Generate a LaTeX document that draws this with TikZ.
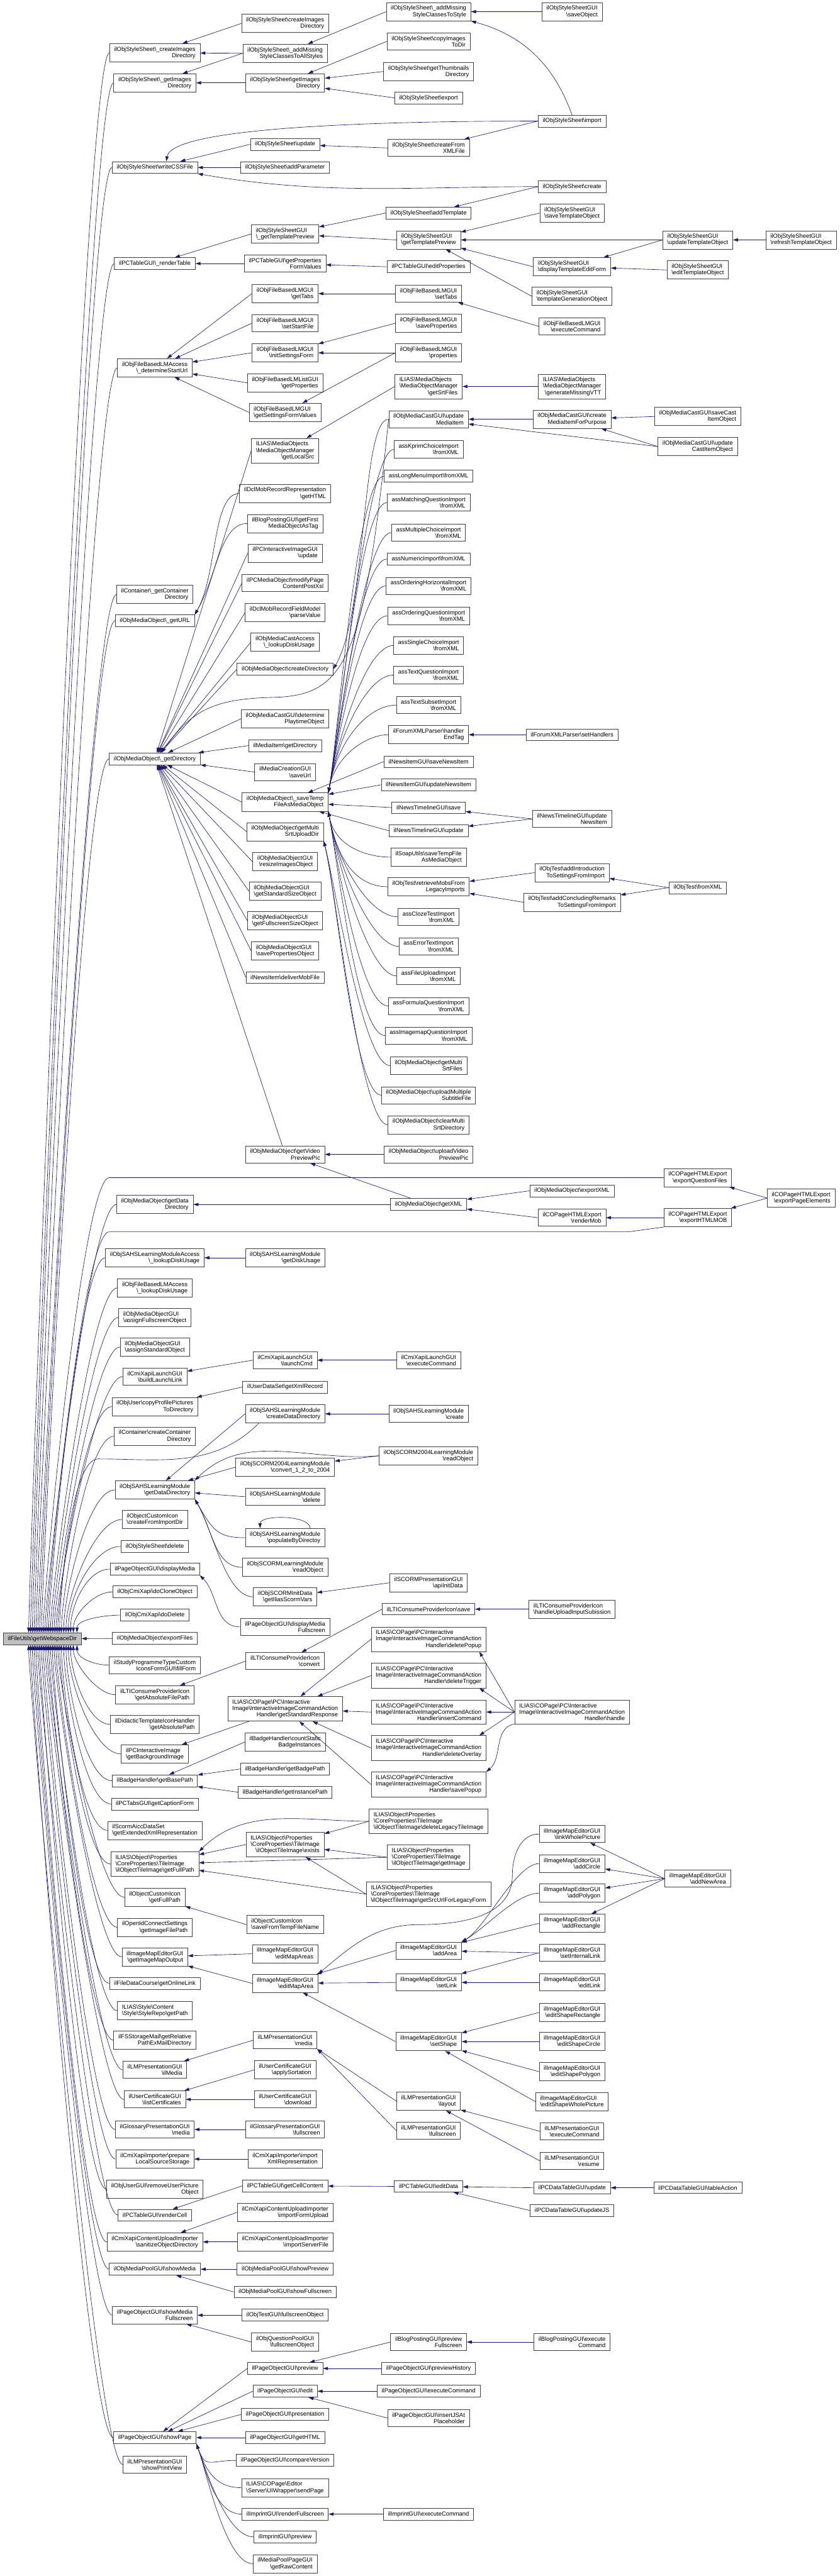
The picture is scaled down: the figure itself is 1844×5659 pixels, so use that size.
\documentclass[tikz,border=0pt]{standalone}
\usepackage{fontspec}
\setmainfont{Liberation Sans}
\usetikzlibrary{arrows.meta}
\definecolor{edgeblue}{RGB}{25,25,112}
\definecolor{boxline}{RGB}{64,64,64}
\definecolor{rootfill}{RGB}{191,191,191}
\newcommand{\bksl}{\textbackslash}
\newcommand{\lastc}[1]{\hfill#1\hfill}
\newcommand{\fnsize}{\fontsize{13}{14}\selectfont}

\begin{document}
\begin{tikzpicture}[x=1pt, y=1pt,
    func/.style={rectangle, draw=boxline, fill=white, line width=1pt, align=left,
                 font=\fnsize, inner xsep=10pt, inner ysep=7pt, minimum height=25pt},
    focus/.style={func, fill=rootfill},
    arrow/.style={<-, >={Triangle[length=11pt,width=7pt]}, draw=edgeblue, line width=0.9pt}
  ]
    \useasboundingbox (0,0) rectangle (1844,-5659);

    % the function itself
    \node[focus] (wsdir) at (93,-3600) {ilFileUtils\bksl{}getWebspaceDir};

    % direct callers
    \node[func] (crimgdir)    at (340,-116)  {ilObjStyleSheet\bksl{}\_createImages\\\lastc{Directory}};
    \node[func] (getimgdir)   at (340,-182)  {ilObjStyleSheet\bksl{}\_getImages\\\lastc{Directory}};
    \node[func] (writecss)    at (340,-368)  {ilObjStyleSheet\bksl{}writeCSSFile};
    \node[func] (rendertab)   at (340,-579)  {ilPCTableGUI\bksl{}\_renderTable};
    \node[func] (startUrl)    at (340,-808)  {ilObjFileBasedLMAccess\\\lastc{\bksl{}\_determineStartUrl}};
    \node[func] (contdir)     at (340,-1306) {ilContainer\bksl{}\_getContainer\\\lastc{Directory}};
    \node[func] (geturl)      at (340,-1364) {ilObjMediaObject\bksl{}\_getURL};
    \node[func] (getdir)      at (340,-1667) {ilObjMediaObject\bksl{}\_getDirectory};
    \node[func] (datadir)     at (340,-2646) {ilObjMediaObject\bksl{}getData\\\lastc{Directory}};
    \node[func] (sahsdisk)    at (340,-2763) {ilObjSAHSLearningModuleAccess\\\lastc{\bksl{}\_lookupDiskUsage}};
    \node[func] (flmdisk)     at (340,-2829) {ilObjFileBasedLMAccess\\\lastc{\bksl{}\_lookupDiskUsage}};
    \node[func] (assignfs)    at (340,-2894) {ilObjMediaObjectGUI\\\lastc{\bksl{}assignFullscreenObject}};
    \node[func] (assignstd)   at (340,-2959) {ilObjMediaObjectGUI\\\lastc{\bksl{}assignStandardObject}};
    \node[func] (buildlink)   at (340,-3024) {ilCmiXapiLaunchGUI\\\lastc{\bksl{}buildLaunchLink}};
    \node[func] (copypics)    at (340,-3090) {ilObjUser\bksl{}copyProfilePictures\\\lastc{ToDirectory}};
    \node[func] (crcontdir)   at (340,-3155) {ilContainer\bksl{}createContainer\\\lastc{Directory}};
    \node[func] (sahsdatadir) at (340,-3273) {ilObjSAHSLearningModule\\\lastc{\bksl{}getDataDirectory}};
    \node[func] (iconimport)  at (340,-3338) {ilObjectCustomIcon\\\lastc{\bksl{}createFromImportDir}};
    \node[func] (ssdelete)    at (340,-3397) {ilObjStyleSheet\bksl{}delete};
    \node[func] (dispmedia)   at (340,-3447) {ilPageObjectGUI\bksl{}displayMedia};
    \node[func] (xapiclone)   at (340,-3497) {ilObjCmiXapi\bksl{}doCloneObject};
    \node[func] (xapidelete)  at (340,-3548) {ilObjCmiXapi\bksl{}doDelete};
    \node[func] (mobexport)   at (340,-3599) {ilObjMediaObject\bksl{}exportFiles};
    \node[func] (spfill)      at (340,-3658) {ilStudyProgrammeTypeCustom\\\lastc{IconsFormGUI\bksl{}fillForm}};
    \node[func] (ltiabspath)  at (340,-3723) {ilLTIConsumeProviderIcon\\\lastc{\bksl{}getAbsoluteFilePath}};
    \node[func] (didabspath)  at (340,-3788) {ilDidacticTemplateIconHandler\\\lastc{\bksl{}getAbsolutePath}};
    \node[func] (bgimage)     at (340,-3853) {ilPCInteractiveImage\\\lastc{\bksl{}getBackgroundImage}};
    \node[func] (badgebase)   at (340,-3912) {ilBadgeHandler\bksl{}getBasePath};
    \node[func] (tabscaption) at (340,-3963) {ilPCTabsGUI\bksl{}getCaptionForm};
    \node[func] (scormxml)    at (340,-4021) {ilScormAiccDataSet\\\lastc{\bksl{}getExtendedXmlRepresentation}};
    \node[func] (tilepath)    at (340,-4095) {ILIAS\bksl{}Object\bksl{}Properties\\\bksl{}CoreProperties\bksl{}TileImage\\\lastc{\bksl{}ilObjectTileImage\bksl{}getFullPath}};
    \node[func] (iconpath)    at (340,-4168) {ilObjectCustomIcon\\\lastc{\bksl{}getFullPath}};
    \node[func] (oidcpath)    at (340,-4234) {ilOpenIdConnectSettings\\\lastc{\bksl{}getImageFilePath}};
    \node[func] (mapoutput)   at (340,-4299) {ilImageMapEditorGUI\\\lastc{\bksl{}getImageMapOutput}};
    \node[func] (crsonline)   at (340,-4357) {ilFileDataCourse\bksl{}getOnlineLink};
    \node[func] (stylepath)   at (340,-4417) {ILIAS\bksl{}Style\bksl{}Content\\\lastc{\bksl{}Style\bksl{}StyleRepo\bksl{}getPath}};
    \node[func] (mailpath)    at (340,-4482) {ilFSStorageMail\bksl{}getRelative\\\lastc{PathExMailDirectory}};
    \node[func] (lmilmedia)   at (340,-4547) {ilLMPresentationGUI\\\lastc{\bksl{}ilMedia}};
    \node[func] (certlist)    at (340,-4612) {ilUserCertificateGUI\\\lastc{\bksl{}listCertificates}};
    \node[func] (glomedia)    at (340,-4678) {ilGlossaryPresentationGUI\\\lastc{\bksl{}media}};
    \node[func] (xapiprep)    at (340,-4743) {ilCmiXapiImporter\bksl{}prepare\\\lastc{LocalSourceStorage}};
    \node[func] (rmpicture)   at (340,-4809) {ilObjUserGUI\bksl{}removeUserPicture\\\lastc{Object}};
    \node[func] (rendercell)  at (340,-4866) {ilPCTableGUI\bksl{}renderCell};
    \node[func] (sanitize)    at (340,-4925) {ilCmiXapiContentUploadImporter\\\lastc{\bksl{}sanitizeObjectDirectory}};
    \node[func] (poolmedia)   at (340,-4985) {ilObjMediaPoolGUI\bksl{}showMedia};
    \node[func] (showmediafs) at (340,-5086) {ilPageObjectGUI\bksl{}showMedia\\\lastc{Fullscreen}};
    \node[func] (showpage)    at (340,-5355) {ilPageObjectGUI\bksl{}showPage};
    \node[func] (printview)   at (340,-5414) {ilLMPresentationGUI\\\lastc{\bksl{}showPrintView}};

    % second level
    \node[func] (createimg)     at (626,-51.5) {ilObjStyleSheet\bksl{}createImages\\\lastc{Directory}};
    \node[func] (addmissall)    at (626,-117)  {ilObjStyleSheet\bksl{}\_addMissing\\\lastc{StyleClassesToAllStyles}};
    \node[func] (imgdir)        at (626,-182)  {ilObjStyleSheet\bksl{}getImages\\\lastc{Directory}};
    \node[func] (ssupdate)      at (626,-317)  {ilObjStyleSheet\bksl{}update};
    \node[func] (addparam)      at (626,-368)  {ilObjStyleSheet\bksl{}addParameter};
    \node[func] (tplprevs)      at (626,-514)  {ilObjStyleSheetGUI\\\lastc{\bksl{}\_getTemplatePreview}};
    \node[func] (propvalues)    at (626,-579)  {ilPCTableGUI\bksl{}getProperties\\\lastc{FormValues}};
    \node[func] (flmtabs)       at (626,-645)  {ilObjFileBasedLMGUI\\\lastc{\bksl{}getTabs}};
    \node[func] (setstart)      at (626,-710)  {ilObjFileBasedLMGUI\\\lastc{\bksl{}setStartFile}};
    \node[func] (initform)      at (626,-775)  {ilObjFileBasedLMGUI\\\lastc{\bksl{}initSettingsForm}};
    \node[func] (listprops)     at (626,-841)  {ilObjFileBasedLMListGUI\\\lastc{\bksl{}getProperties}};
    \node[func] (formvalues)    at (626,-906)  {ilObjFileBasedLMGUI\\\lastc{\bksl{}getSettingsFormValues}};
    \node[func] (localsrc)      at (626,-990)  {ILIAS\bksl{}MediaObjects\\\bksl{}MediaObjectManager\\\lastc{\bksl{}getLocalSrc}};
    \node[func] (dclhtml)       at (626,-1084) {ilDclMobRecordRepresentation\\\lastc{\bksl{}getHTML}};
    \node[func] (firstmob)      at (626,-1150) {ilBlogPostingGUI\bksl{}getFirst\\\lastc{MediaObjectAsTag}};
    \node[func] (iimupdate)     at (626,-1215) {ilPCInteractiveImageGUI\\\lastc{\bksl{}update}};
    \node[func] (postxsl)       at (626,-1281) {ilPCMediaObject\bksl{}modifyPage\\\lastc{ContentPostXsl}};
    \node[func] (dclparse)      at (626,-1346) {ilDclMobRecordFieldModel\\\lastc{\bksl{}parseValue}};
    \node[func] (castdisk)      at (626,-1411) {ilObjMediaCastAccess\\\lastc{\bksl{}\_lookupDiskUsage}};
    \node[func] (createdir)     at (626,-1470) {ilObjMediaObject\bksl{}createDirectory};
    \node[func] (playtime)      at (626,-1579) {ilObjMediaCastGUI\bksl{}determine\\\lastc{PlaytimeObject}};
    \node[func] (itemdir)       at (626,-1638) {ilMediaItem\bksl{}getDirectory};
    \node[func] (saveurl)       at (626,-1696) {ilMediaCreationGUI\\\lastc{\bksl{}saveUrl}};
    \node[func] (savetemp)      at (626,-1762) {ilObjMediaObject\bksl{}\_saveTemp\\\lastc{FileAsMediaObject}};
    \node[func] (srtupdir)      at (626,-1827) {ilObjMediaObject\bksl{}getMulti\\\lastc{SrtUploadDir}};
    \node[func] (resizeimg)     at (626,-1893) {ilObjMediaObjectGUI\\\lastc{\bksl{}resizeImagesObject}};
    \node[func] (stdsize)       at (626,-1958) {ilObjMediaObjectGUI\\\lastc{\bksl{}getStandardSizeObject}};
    \node[func] (fssize)        at (626,-2023) {ilObjMediaObjectGUI\\\lastc{\bksl{}getFullscreenSizeObject}};
    \node[func] (saveprops)     at (626,-2089) {ilObjMediaObjectGUI\\\lastc{\bksl{}savePropertiesObject}};
    \node[func] (delivermob)    at (626,-2147) {ilNewsItem\bksl{}deliverMobFile};
    \node[func] (videopic)      at (626,-2536) {ilObjMediaObject\bksl{}getVideo\\\lastc{PreviewPic}};
    \node[func] (sahsdiskusage) at (626,-2763) {ilObjSAHSLearningModule\\\lastc{\bksl{}getDiskUsage}};
    \node[func] (launchcmd)     at (626,-2988) {ilCmiXapiLaunchGUI\\\lastc{\bksl{}launchCmd}};
    \node[func] (xmlrecord)     at (626,-3047) {ilUserDataSet\bksl{}getXmlRecord};
    \node[func] (createdatadir) at (626,-3106) {ilObjSAHSLearningModule\\\lastc{\bksl{}createDataDirectory}};
    \node[func] (convert12)     at (626,-3223) {ilObjSCORM2004LearningModule\\\lastc{\bksl{}convert\_1\_2\_to\_2004}};
    \node[func] (sahsdel)       at (626,-3288) {ilObjSAHSLearningModule\\\lastc{\bksl{}delete}};
    \node[func] (populate)      at (626,-3378) {ilObjSAHSLearningModule\\\lastc{\bksl{}populateByDirectoy}};
    \node[func] (scormread)     at (626,-3443) {ilObjSCORMLearningModule\\\lastc{\bksl{}readObject}};
    \node[func] (scormvars)     at (626,-3508) {ilObjSCORMInitData\\\lastc{\bksl{}getIliasScormVars}};
    \node[func] (dispmediafs)   at (626,-3574) {ilPageObjectGUI\bksl{}displayMedia\\\lastc{Fullscreen}};
    \node[func] (lticonvert)    at (626,-3649) {ilLTIConsumeProviderIcon\\\lastc{\bksl{}convert}};
    \node[func] (stdresponse)   at (626,-3754) {ILIAS\bksl{}COPage\bksl{}PC\bksl{}Interactive\\Image\bksl{}InteractiveImageCommandAction\\\lastc{Handler\bksl{}getStandardResponse}};
    \node[func] (countbadges)   at (626,-3827) {ilBadgeHandler\bksl{}countStatic\\\lastc{BadgeInstances}};
    \node[func] (badgepath)     at (626,-3886) {ilBadgeHandler\bksl{}getBadgePath};
    \node[func] (instpath)      at (626,-3937) {ilBadgeHandler\bksl{}getInstancePath};
    \node[func] (tileexists)    at (626,-4052) {ILIAS\bksl{}Object\bksl{}Properties\\\bksl{}CoreProperties\bksl{}TileImage\\\lastc{\bksl{}ilObjectTileImage\bksl{}exists}};
    \node[func] (savetempicon)  at (626,-4228) {ilObjectCustomIcon\\\lastc{\bksl{}saveFromTempFileName}};
    \node[func] (editmapareas)  at (626,-4292) {ilImageMapEditorGUI\\\lastc{\bksl{}editMapAreas}};
    \node[func] (editmaparea)   at (626,-4357) {ilImageMapEditorGUI\\\lastc{\bksl{}editMapArea}};
    \node[func] (lmmedia)       at (626,-4482) {ilLMPresentationGUI\\\lastc{\bksl{}media}};
    \node[func] (certsort)      at (626,-4547) {ilUserCertificateGUI\\\lastc{\bksl{}applySortation}};
    \node[func] (certdownload)  at (626,-4612) {ilUserCertificateGUI\\\lastc{\bksl{}download}};
    \node[func] (glofs)         at (626,-4678) {ilGlossaryPresentationGUI\\\lastc{\bksl{}fullscreen}};
    \node[func] (xapiimport)    at (626,-4743) {ilCmiXapiImporter\bksl{}import\\\lastc{XmlRepresentation}};
    \node[func] (cellcontent)   at (626,-4802) {ilPCTableGUI\bksl{}getCellContent};
    \node[func] (formupload)    at (626,-4860) {ilCmiXapiContentUploadImporter\\\lastc{\bksl{}importFormUpload}};
    \node[func] (serverfile)    at (626,-4925) {ilCmiXapiContentUploadImporter\\\lastc{\bksl{}importServerFile}};
    \node[func] (poolpreview)   at (626,-4985) {ilObjMediaPoolGUI\bksl{}showPreview};
    \node[func] (poolfs)        at (626,-5035) {ilObjMediaPoolGUI\bksl{}showFullscreen};
    \node[func] (testfs)        at (626,-5086) {ilObjTestGUI\bksl{}fullscreenObject};
    \node[func] (qplfs)         at (626,-5145) {ilObjQuestionPoolGUI\\\lastc{\bksl{}fullscreenObject}};
    \node[func] (pgpreview)     at (626,-5203) {ilPageObjectGUI\bksl{}preview};
    \node[func] (pgedit)        at (626,-5253) {ilPageObjectGUI\bksl{}edit};
    \node[func] (pgpresent)     at (626,-5304) {ilPageObjectGUI\bksl{}presentation};
    \node[func] (pghtml)        at (626,-5355) {ilPageObjectGUI\bksl{}getHTML};
    \node[func] (pgcompare)     at (626,-5405) {ilPageObjectGUI\bksl{}compareVersion};
    \node[func] (sendpage)      at (626,-5465) {ILIAS\bksl{}COPage\bksl{}Editor\\\lastc{\bksl{}Server\bksl{}UIWrapper\bksl{}sendPage}};
    \node[func] (imprintfs)     at (626,-5523) {ilImprintGUI\bksl{}renderFullscreen};
    \node[func] (imprintprev)   at (626,-5573) {ilImprintGUI\bksl{}preview};
    \node[func] (rawcontent)    at (626,-5632) {ilMediaPoolPageGUI\\\lastc{\bksl{}getRawContent}};

    % third level
    \node[func] (addmiss)       at (941,-25.7) {ilObjStyleSheet\bksl{}\_addMissing\\\lastc{StyleClassesToStyle}};
    \node[func] (copyimg)       at (941,-91)   {ilObjStyleSheet\bksl{}copyImages\\\lastc{ToDir}};
    \node[func] (thumbdir)      at (941,-157)  {ilObjStyleSheet\bksl{}getThumbnails\\\lastc{Directory}};
    \node[func] (ssexport)      at (941,-215)  {ilObjStyleSheet\bksl{}export};
    \node[func] (fromxmlfile)   at (941,-325)  {ilObjStyleSheet\bksl{}createFrom\\\lastc{XMLFile}};
    \node[func] (addtpl)        at (941,-468)  {ilObjStyleSheet\bksl{}addTemplate};
    \node[func] (tplprev)       at (941,-527)  {ilObjStyleSheetGUI\\\lastc{\bksl{}getTemplatePreview}};
    \node[func] (editprops)     at (941,-586)  {ilPCTableGUI\bksl{}editProperties};
    \node[func] (settabs)       at (941,-645)  {ilObjFileBasedLMGUI\\\lastc{\bksl{}setTabs}};
    \node[func] (flmsaveprops)  at (941,-710)  {ilObjFileBasedLMGUI\\\lastc{\bksl{}saveProperties}};
    \node[func] (flmprops)      at (941,-775)  {ilObjFileBasedLMGUI\\\lastc{\bksl{}properties}};
    \node[func] (srtfiles)      at (941,-849)  {ILIAS\bksl{}MediaObjects\\\bksl{}MediaObjectManager\\\lastc{\bksl{}getSrtFiles}};
    \node[func] (updmediaitem)  at (941,-921)  {ilObjMediaCastGUI\bksl{}update\\\lastc{MediaItem}};
    \node[func] (kprim)         at (941,-987)  {assKprimChoiceImport\\\lastc{\bksl{}fromXML}};
    \node[func] (longmenu)      at (941,-1046) {assLongMenuImport\bksl{}fromXML};
    \node[func] (matching)      at (941,-1104) {assMatchingQuestionImport\\\lastc{\bksl{}fromXML}};
    \node[func] (multichoice)   at (941,-1170) {assMultipleChoiceImport\\\lastc{\bksl{}fromXML}};
    \node[func] (numeric)       at (941,-1228) {assNumericImport\bksl{}fromXML};
    \node[func] (orderhor)      at (941,-1287) {assOrderingHorizontalImport\\\lastc{\bksl{}fromXML}};
    \node[func] (orderq)        at (941,-1353) {assOrderingQuestionImport\\\lastc{\bksl{}fromXML}};
    \node[func] (singlechoice)  at (941,-1418) {assSingleChoiceImport\\\lastc{\bksl{}fromXML}};
    \node[func] (textq)         at (941,-1483) {assTextQuestionImport\\\lastc{\bksl{}fromXML}};
    \node[func] (textsubset)    at (941,-1549) {assTextSubsetImport\\\lastc{\bksl{}fromXML}};
    \node[func] (forumend)      at (941,-1614) {ilForumXMLParser\bksl{}handler\\\lastc{EndTag}};
    \node[func] (newssave)      at (941,-1673) {ilNewsItemGUI\bksl{}saveNewsItem};
    \node[func] (newsupd)       at (941,-1724) {ilNewsItemGUI\bksl{}updateNewsItem};
    \node[func] (tlsave)        at (941,-1774) {ilNewsTimelineGUI\bksl{}save};
    \node[func] (tlupdate)      at (941,-1825) {ilNewsTimelineGUI\bksl{}update};
    \node[func] (soaptemp)      at (941,-1883) {ilSoapUtils\bksl{}saveTempFile\\\lastc{AsMediaObject}};
    \node[func] (legacymobs)    at (941,-1948) {ilObjTest\bksl{}retrieveMobsFrom\\\lastc{LegacyImports}};
    \node[func] (cloze)         at (941,-2014) {assClozeTestImport\\\lastc{\bksl{}fromXML}};
    \node[func] (errortext)     at (941,-2079) {assErrorTextImport\\\lastc{\bksl{}fromXML}};
    \node[func] (fileupload)    at (941,-2144) {assFileUploadImport\\\lastc{\bksl{}fromXML}};
    \node[func] (formula)       at (941,-2210) {assFormulaQuestionImport\\\lastc{\bksl{}fromXML}};
    \node[func] (imagemap)      at (941,-2275) {assImagemapQuestionImport\\\lastc{\bksl{}fromXML}};
    \node[func] (multisrt)      at (941,-2341) {ilObjMediaObject\bksl{}getMulti\\\lastc{SrtFiles}};
    \node[func] (uploadsub)     at (941,-2406) {ilObjMediaObject\bksl{}uploadMultiple\\\lastc{SubtitleFile}};
    \node[func] (clearsrt)      at (941,-2471) {ilObjMediaObject\bksl{}clearMulti\\\lastc{SrtDirectory}};
    \node[func] (uploadvideo)   at (941,-2536) {ilObjMediaObject\bksl{}uploadVideo\\\lastc{PreviewPic}};
    \node[func] (getxml)        at (941,-2646) {ilObjMediaObject\bksl{}getXML};
    \node[func] (xapiexec)      at (941,-2988) {ilCmiXapiLaunchGUI\\\lastc{\bksl{}executeCommand}};
    \node[func] (sahscreate)    at (941,-3106) {ilObjSAHSLearningModule\\\lastc{\bksl{}create}};
    \node[func] (scorm2004read) at (941,-3198) {ilObjSCORM2004LearningModule\\\lastc{\bksl{}readObject}};
    \node[func] (apiinit)       at (941,-3477) {ilSCORMPresentationGUI\\\lastc{\bksl{}apiInitData}};
    \node[func] (ltisave)       at (941,-3535) {ilLTIConsumeProviderIcon\bksl{}save};
    \node[func] (delpopup)      at (941,-3601) {ILIAS\bksl{}COPage\bksl{}PC\bksl{}Interactive\\Image\bksl{}InteractiveImageCommandAction\\\lastc{Handler\bksl{}deletePopup}};
    \node[func] (deltrigger)    at (941,-3681) {ILIAS\bksl{}COPage\bksl{}PC\bksl{}Interactive\\Image\bksl{}InteractiveImageCommandAction\\\lastc{Handler\bksl{}deleteTrigger}};
    \node[func] (insertcmd)     at (941,-3761) {ILIAS\bksl{}COPage\bksl{}PC\bksl{}Interactive\\Image\bksl{}InteractiveImageCommandAction\\\lastc{Handler\bksl{}insertCommand}};
    \node[func] (deloverlay)    at (941,-3840) {ILIAS\bksl{}COPage\bksl{}PC\bksl{}Interactive\\Image\bksl{}InteractiveImageCommandAction\\\lastc{Handler\bksl{}deleteOverlay}};
    \node[func] (savepopup)     at (941,-3920) {ILIAS\bksl{}COPage\bksl{}PC\bksl{}Interactive\\Image\bksl{}InteractiveImageCommandAction\\\lastc{Handler\bksl{}savePopup}};
    \node[func] (dellegacy)     at (941,-4001) {ILIAS\bksl{}Object\bksl{}Properties\\\bksl{}CoreProperties\bksl{}TileImage\\\lastc{\bksl{}ilObjectTileImage\bksl{}deleteLegacyTileImage}};
    \node[func] (tileimage)     at (941,-4080) {ILIAS\bksl{}Object\bksl{}Properties\\\bksl{}CoreProperties\bksl{}TileImage\\\lastc{\bksl{}ilObjectTileImage\bksl{}getImage}};
    \node[func] (tilesrcurl)    at (941,-4161) {ILIAS\bksl{}Object\bksl{}Properties\\\bksl{}CoreProperties\bksl{}TileImage\\\lastc{\bksl{}ilObjectTileImage\bksl{}getSrcUrlForLegacyForm}};
    \node[func] (addarea)       at (941,-4285) {ilImageMapEditorGUI\\\lastc{\bksl{}addArea}};
    \node[func] (setlink)       at (941,-4355) {ilImageMapEditorGUI\\\lastc{\bksl{}setLink}};
    \node[func] (setshape)      at (941,-4485) {ilImageMapEditorGUI\\\lastc{\bksl{}setShape}};
    \node[func] (lmlayout)      at (941,-4616) {ilLMPresentationGUI\\\lastc{\bksl{}layout}};
    \node[func] (lmfs)          at (941,-4681) {ilLMPresentationGUI\\\lastc{\bksl{}fullscreen}};
    \node[func] (editdata)      at (941,-4803) {ilPCTableGUI\bksl{}editData};
    \node[func] (blogprevfs)    at (941,-5145) {ilBlogPostingGUI\bksl{}preview\\\lastc{Fullscreen}};
    \node[func] (prevhistory)   at (941,-5203) {ilPageObjectGUI\bksl{}previewHistory};
    \node[func] (pgexec)        at (941,-5253) {ilPageObjectGUI\bksl{}executeCommand};
    \node[func] (insertjs)      at (941,-5312) {ilPageObjectGUI\bksl{}insertJSAt\\\lastc{Placeholder}};
    \node[func] (imprintexec)   at (941,-5523) {ilImprintGUI\bksl{}executeCommand};

    % fourth level
    \node[func] (saveobj)          at (1256,-25.7) {ilObjStyleSheetGUI\\\lastc{\bksl{}saveObject}};
    \node[func] (ssimport)         at (1256,-266)  {ilObjStyleSheet\bksl{}import};
    \node[func] (sscreate)         at (1256,-410)  {ilObjStyleSheet\bksl{}create};
    \node[func] (savetpl)          at (1256,-468)  {ilObjStyleSheetGUI\\\lastc{\bksl{}saveTemplateObject}};
    \node[func] (tpleditform)      at (1256,-586)  {ilObjStyleSheetGUI\\\lastc{\bksl{}displayTemplateEditForm}};
    \node[func] (tplgen)           at (1256,-651)  {ilObjStyleSheetGUI\\\lastc{\bksl{}templateGenerationObject}};
    \node[func] (flmexec)          at (1256,-717)  {ilObjFileBasedLMGUI\\\lastc{\bksl{}executeCommand}};
    \node[func] (missingvtt)       at (1256,-849)  {ILIAS\bksl{}MediaObjects\\\bksl{}MediaObjectManager\\\lastc{\bksl{}generateMissingVTT}};
    \node[func] (createforpurpose) at (1256,-921)  {ilObjMediaCastGUI\bksl{}create\\\lastc{MediaItemForPurpose}};
    \node[func] (sethandlers)      at (1256,-1614) {ilForumXMLParser\bksl{}setHandlers};
    \node[func] (tlupdnews)        at (1256,-1799) {ilNewsTimelineGUI\bksl{}update\\\lastc{NewsItem}};
    \node[func] (addintro)         at (1256,-1917) {ilObjTest\bksl{}addIntroduction\\\lastc{ToSettingsFromImport}};
    \node[func] (addremarks)       at (1256,-1982) {ilObjTest\bksl{}addConcludingRemarks\\\lastc{ToSettingsFromImport}};
    \node[func] (exportxml)        at (1256,-2616) {ilObjMediaObject\bksl{}exportXML};
    \node[func] (rendermob)        at (1256,-2675) {ilCOPageHTMLExport\\\lastc{\bksl{}renderMob}};
    \node[func] (uploadsubmit)     at (1256,-3535) {ilLTIConsumeProviderIcon\\\lastc{\bksl{}handleUploadInputSubission}};
    \node[func] (iihandle)         at (1256,-3761) {ILIAS\bksl{}COPage\bksl{}PC\bksl{}Interactive\\Image\bksl{}InteractiveImageCommandAction\\\lastc{Handler\bksl{}handle}};
    \node[func] (linkwhole)        at (1256,-4029) {ilImageMapEditorGUI\\\lastc{\bksl{}linkWholePicture}};
    \node[func] (addcircle)        at (1256,-4094) {ilImageMapEditorGUI\\\lastc{\bksl{}addCircle}};
    \node[func] (addpolygon)       at (1256,-4159) {ilImageMapEditorGUI\\\lastc{\bksl{}addPolygon}};
    \node[func] (addrect)          at (1256,-4225) {ilImageMapEditorGUI\\\lastc{\bksl{}addRectangle}};
    \node[func] (setintlink)       at (1256,-4290) {ilImageMapEditorGUI\\\lastc{\bksl{}setInternalLink}};
    \node[func] (editlink)         at (1256,-4355) {ilImageMapEditorGUI\\\lastc{\bksl{}editLink}};
    \node[func] (shaperect)        at (1256,-4421) {ilImageMapEditorGUI\\\lastc{\bksl{}editShapeRectangle}};
    \node[func] (shapecircle)      at (1256,-4485) {ilImageMapEditorGUI\\\lastc{\bksl{}editShapeCircle}};
    \node[func] (shapepoly)        at (1256,-4551) {ilImageMapEditorGUI\\\lastc{\bksl{}editShapePolygon}};
    \node[func] (shapewhole)       at (1256,-4617) {ilImageMapEditorGUI\\\lastc{\bksl{}editShapeWholePicture}};
    \node[func] (lmexec)           at (1256,-4682) {ilLMPresentationGUI\\\lastc{\bksl{}executeCommand}};
    \node[func] (lmresume)         at (1256,-4747) {ilLMPresentationGUI\\\lastc{\bksl{}resume}};
    \node[func] (dtupdate)         at (1256,-4806) {ilPCDataTableGUI\bksl{}update};
    \node[func] (dtupdatejs)       at (1256,-4856) {ilPCDataTableGUI\bksl{}updateJS};
    \node[func] (blogexec)         at (1256,-5145) {ilBlogPostingGUI\bksl{}execute\\\lastc{Command}};

    % fifth and sixth level
    \node[func] (updtpl)        at (1532,-527)  {ilObjStyleSheetGUI\\\lastc{\bksl{}updateTemplateObject}};
    \node[func] (edittpl)       at (1532,-593)  {ilObjStyleSheetGUI\\\lastc{\bksl{}editTemplateObject}};
    \node[func] (savecastitem)  at (1532,-915)  {ilObjMediaCastGUI\bksl{}saveCast\\\lastc{ItemObject}};
    \node[func] (updcastitem)   at (1532,-981)  {ilObjMediaCastGUI\bksl{}update\\\lastc{CastItemObject}};
    \node[func] (testfromxml)   at (1532,-1950) {ilObjTest\bksl{}fromXML};
    \node[func] (exportqfiles)  at (1532,-2587) {ilCOPageHTMLExport\\\lastc{\bksl{}exportQuestionFiles}};
    \node[func] (exporthtmlmob) at (1532,-2675) {ilCOPageHTMLExport\\\lastc{\bksl{}exportHTMLMOB}};
    \node[func] (addnewarea)    at (1532,-4127) {ilImageMapEditorGUI\\\lastc{\bksl{}addNewArea}};
    \node[func] (tableaction)   at (1532,-4806) {ilPCDataTableGUI\bksl{}tableAction};
    \node[func] (refreshtpl)    at (1759,-527)  {ilObjStyleSheetGUI\\\lastc{\bksl{}refreshTemplateObject}};
    \node[func] (exportpageel)  at (1759,-2632) {ilCOPageHTMLExport\\\lastc{\bksl{}exportPageElements}};

    % calls into getWebspaceDir, from above
    \draw[arrow] ([xshift=-30pt]wsdir.north) .. controls +(0,80) and +(-60,0) .. (crimgdir.west);
    \draw[arrow] ([xshift=-26pt]wsdir.north) .. controls +(0,80) and +(-60,0) .. (getimgdir.west);
    \draw[arrow] ([xshift=-22pt]wsdir.north) .. controls +(0,80) and +(-60,0) .. (writecss.west);
    \draw[arrow] ([xshift=-18pt]wsdir.north) .. controls +(0,80) and +(-60,0) .. (rendertab.west);
    \draw[arrow] ([xshift=-14pt]wsdir.north) .. controls +(0,80) and +(-60,0) .. (startUrl.west);
    \draw[arrow] ([xshift=-10pt]wsdir.north) .. controls +(0,80) and +(-60,0) .. (contdir.west);
    \draw[arrow] ([xshift=-6pt]wsdir.north) .. controls +(0,80) and +(-60,0) .. (geturl.west);
    \draw[arrow] ([xshift=-2pt]wsdir.north) .. controls +(0,80) and +(-60,0) .. (getdir.west);
    \draw[arrow] ([xshift=2pt]wsdir.north) .. controls +(0,80) and +(-60,0) .. (240,-2587) -- (exportqfiles.west);
    \draw[arrow] ([xshift=6pt]wsdir.north) .. controls +(0,80) and +(-60,0) .. (datadir.west);
    \draw[arrow] ([xshift=10pt]wsdir.north) .. controls +(0,80) and +(-60,0) .. (240,-2706) -- (1380,-2706) -- (exporthtmlmob.south west);
    \draw[arrow] ([xshift=14pt]wsdir.north) .. controls +(0,80) and +(-60,0) .. (sahsdisk.west);
    \draw[arrow] ([xshift=18pt]wsdir.north) .. controls +(0,80) and +(-60,0) .. (flmdisk.west);
    \draw[arrow] ([xshift=22pt]wsdir.north) .. controls +(0,80) and +(-60,0) .. (assignfs.west);
    \draw[arrow] ([xshift=26pt]wsdir.north) .. controls +(0,80) and +(-60,0) .. (assignstd.west);
    \draw[arrow] ([xshift=30pt]wsdir.north) .. controls +(0,80) and +(-60,0) .. (buildlink.west);
    \draw[arrow] ([xshift=34pt]wsdir.north) .. controls +(0,80) and +(-60,0) .. (copypics.west);
    \draw[arrow] ([xshift=38pt]wsdir.north) .. controls +(0,80) and +(-60,0) .. (215,-3205) .. controls +(140,0) and +(-100,-100) .. ([xshift=30pt]createdatadir.south west);
    \draw[arrow] ([xshift=42pt]wsdir.north) .. controls +(0,80) and +(-60,0) .. (crcontdir.west);
    \draw[arrow] ([xshift=47pt]wsdir.north) .. controls +(0,80) and +(-60,0) .. (sahsdatadir.west);
    \draw[arrow] ([xshift=52pt]wsdir.north) .. controls +(0,80) and +(-60,0) .. (iconimport.west);
    \draw[arrow] ([xshift=57pt]wsdir.north) .. controls +(0,80) and +(-60,0) .. (ssdelete.west);
    \draw[arrow] ([xshift=62pt]wsdir.north) .. controls +(0,60) and +(-50,0) .. (dispmedia.west);
    \draw[arrow] ([xshift=68pt]wsdir.north) .. controls +(0,40) and +(-40,0) .. (xapiclone.west);
    \draw[arrow] ([xshift=76pt]wsdir.north) .. controls +(0,30) and +(-30,0) .. (xapidelete.west);
    \draw[arrow] (wsdir) -- (mobexport);

    % calls into getWebspaceDir, from below
    \draw[arrow] ([xshift=76pt]wsdir.south) .. controls +(0,-30) and +(-30,0) .. (spfill.west);
    \draw[arrow] ([xshift=68pt]wsdir.south) .. controls +(0,-40) and +(-40,0) .. (ltiabspath.west);
    \draw[arrow] ([xshift=62pt]wsdir.south) .. controls +(0,-60) and +(-50,0) .. (didabspath.west);
    \draw[arrow] ([xshift=57pt]wsdir.south) .. controls +(0,-80) and +(-60,0) .. (bgimage.west);
    \draw[arrow] ([xshift=52pt]wsdir.south) .. controls +(0,-80) and +(-60,0) .. (badgebase.west);
    \draw[arrow] ([xshift=47pt]wsdir.south) .. controls +(0,-80) and +(-60,0) .. (tabscaption.west);
    \draw[arrow] ([xshift=42pt]wsdir.south) .. controls +(0,-80) and +(-60,0) .. (scormxml.west);
    \draw[arrow] ([xshift=38pt]wsdir.south) .. controls +(0,-80) and +(-60,0) .. (tilepath.west);
    \draw[arrow] ([xshift=34pt]wsdir.south) .. controls +(0,-80) and +(-60,0) .. (iconpath.west);
    \draw[arrow] ([xshift=30pt]wsdir.south) .. controls +(0,-80) and +(-60,0) .. (oidcpath.west);
    \draw[arrow] ([xshift=26pt]wsdir.south) .. controls +(0,-80) and +(-60,0) .. (mapoutput.west);
    \draw[arrow] ([xshift=22pt]wsdir.south) .. controls +(0,-80) and +(-60,0) .. (crsonline.west);
    \draw[arrow] ([xshift=18pt]wsdir.south) .. controls +(0,-80) and +(-60,0) .. (stylepath.west);
    \draw[arrow] ([xshift=14pt]wsdir.south) .. controls +(0,-80) and +(-60,0) .. (mailpath.west);
    \draw[arrow] ([xshift=10pt]wsdir.south) .. controls +(0,-80) and +(-60,0) .. (lmilmedia.west);
    \draw[arrow] ([xshift=6pt]wsdir.south) .. controls +(0,-80) and +(-60,0) .. (certlist.west);
    \draw[arrow] ([xshift=2pt]wsdir.south) .. controls +(0,-80) and +(-60,0) .. (glomedia.west);
    \draw[arrow] ([xshift=-2pt]wsdir.south) .. controls +(0,-80) and +(-60,0) .. (xapiprep.west);
    \draw[arrow] ([xshift=-6pt]wsdir.south) .. controls +(0,-80) and +(-60,0) .. (rmpicture.west);
    \draw[arrow] ([xshift=-10pt]wsdir.south) .. controls +(0,-80) and +(-60,0) .. (rendercell.west);
    \draw[arrow] ([xshift=-14pt]wsdir.south) .. controls +(0,-80) and +(-60,0) .. (sanitize.west);
    \draw[arrow] ([xshift=-18pt]wsdir.south) .. controls +(0,-80) and +(-60,0) .. (poolmedia.west);
    \draw[arrow] ([xshift=-22pt]wsdir.south) .. controls +(0,-80) and +(-60,0) .. (showmediafs.west);
    \draw[arrow] ([xshift=-26pt]wsdir.south) .. controls +(0,-80) and +(-60,0) .. (showpage.west);
    \draw[arrow] ([xshift=-30pt]wsdir.south) .. controls +(0,-80) and +(-60,0) .. (printview.west);

    % style sheets
    \draw[arrow] (crimgdir) -- (createimg.west);
    \draw[arrow] (crimgdir) -- (addmissall.west);
    \draw[arrow] (getimgdir) -- (addmissall.west);
    \draw[arrow] (getimgdir) -- (imgdir.west);
    \draw[arrow] (addmissall) -- (addmiss.west);
    \draw[arrow] (addmiss) -- (saveobj.west);
    \draw[arrow] (addmiss.south east) .. controls +(114,-31) and +(-40,111) .. (ssimport.north);
    \draw[arrow] (imgdir) -- (copyimg.west);
    \draw[arrow] (imgdir) -- (thumbdir.west);
    \draw[arrow] (imgdir) -- (ssexport.west);
    \draw[arrow] (writecss) -- (ssupdate.west);
    \draw[arrow] (writecss) -- (addparam.west);
    \draw[arrow] ([xshift=25pt]writecss.north) .. controls +(14,79) and +(-300,0) .. (ssimport.west);
    \draw[arrow] (writecss.south east) .. controls +(273,-48) and +(-277,0) .. (sscreate.west);
    \draw[arrow] (ssupdate) -- (fromxmlfile.west);
    \draw[arrow] (fromxmlfile) -- (ssimport.west);
    \draw[arrow] (addtpl) -- (sscreate.west);
    \draw[arrow] (tplprevs) -- (addtpl.west);
    \draw[arrow] (tplprevs) -- (tplprev.west);
    \draw[arrow] (tplprev) -- (savetpl.west);
    \draw[arrow] (tplprev) -- (updtpl.west);
    \draw[arrow] (tplprev) -- (tpleditform.west);
    \draw[arrow] (tplprev) -- (tplgen.west);
    \draw[arrow] (tpleditform) -- (updtpl.west);
    \draw[arrow] (tpleditform) -- (edittpl.west);
    \draw[arrow] (updtpl) -- (refreshtpl.west);
    \draw[arrow] (rendertab) -- (tplprevs.west);
    \draw[arrow] (rendertab) -- (propvalues.west);
    \draw[arrow] (propvalues) -- (editprops.west);

    % file based learning modules
    \draw[arrow] (startUrl) -- (flmtabs.west);
    \draw[arrow] (startUrl) -- (setstart.west);
    \draw[arrow] (startUrl) -- (initform.west);
    \draw[arrow] (startUrl) -- (listprops.west);
    \draw[arrow] (startUrl) -- (formvalues.west);
    \draw[arrow] (flmtabs) -- (settabs.west);
    \draw[arrow] (settabs) -- (flmexec.west);
    \draw[arrow] (initform) -- (flmsaveprops.west);
    \draw[arrow] (initform) -- (flmprops.west);
    \draw[arrow] (formvalues) -- (flmprops.west);

    % media objects
    \draw[arrow] (localsrc) -- (srtfiles.west);
    \draw[arrow] (srtfiles) -- (missingvtt.west);
    \draw[arrow] (updmediaitem) -- (createforpurpose.west);
    \draw[arrow] (updmediaitem) -- (updcastitem.west);
    \draw[arrow] (createforpurpose) -- (savecastitem.west);
    \draw[arrow] (createforpurpose) -- (updcastitem.west);
    \draw[arrow] (geturl.north east) .. controls +(50,87) and +(-60,0) .. (dclhtml.west);
    \draw[arrow] (geturl.north east) .. controls +(50,87) and +(-60,0) .. (firstmob.west);
    \draw[arrow] (getdir) -- (localsrc.west);
    \draw[arrow] (getdir) -- (iimupdate.west);
    \draw[arrow] (getdir) -- (postxsl.west);
    \draw[arrow] (getdir) -- (dclparse.west);
    \draw[arrow] (getdir) -- (castdisk.west);
    \draw[arrow] (getdir) -- (createdir.west);
    \draw[arrow] (getdir) -- (playtime.west);
    \draw[arrow] (getdir) -- (itemdir.west);
    \draw[arrow] (getdir) -- (saveurl.west);
    \draw[arrow] (getdir) -- (savetemp.west);
    \draw[arrow] (getdir) -- (srtupdir.west);
    \draw[arrow] (getdir) -- (resizeimg.west);
    \draw[arrow] (getdir) -- (stdsize.west);
    \draw[arrow] (getdir) -- (fssize.west);
    \draw[arrow] (getdir) -- (saveprops.west);
    \draw[arrow] (getdir) -- (delivermob.west);
    \draw[arrow] (getdir) -- (videopic);
    \draw[arrow] ([xshift=15pt]getdir.north) .. controls (420,-1560) and (470,-1535) .. (600,-1532) .. controls (760,-1528) and (800,-1450) .. (updmediaitem.west);
    \draw[arrow] (createdir.east) .. controls +(75,130) and +(-60,0) .. (updmediaitem.west);
    \draw[arrow] (savetemp.north east) .. controls +(21,118) and +(-60,0) .. (kprim.west);
    \draw[arrow] (savetemp.north east) .. controls +(21,118) and +(-60,0) .. (longmenu.west);
    \draw[arrow] (savetemp.north east) .. controls +(21,118) and +(-60,0) .. (matching.west);
    \draw[arrow] (savetemp.north east) .. controls +(21,118) and +(-60,0) .. (multichoice.west);
    \draw[arrow] (savetemp.north east) .. controls +(21,118) and +(-60,0) .. (numeric.west);
    \draw[arrow] (savetemp.north east) .. controls +(21,118) and +(-60,0) .. (orderhor.west);
    \draw[arrow] (savetemp.north east) .. controls +(21,118) and +(-60,0) .. (orderq.west);
    \draw[arrow] (savetemp.north east) .. controls +(21,118) and +(-60,0) .. (singlechoice.west);
    \draw[arrow] (savetemp.north east) .. controls +(21,118) and +(-60,0) .. (textq.west);
    \draw[arrow] (savetemp.north east) .. controls +(21,118) and +(-60,0) .. (textsubset.west);
    \draw[arrow] (savetemp.north east) .. controls +(14,79) and +(-50,0) .. (forumend.west);
    \draw[arrow] (savetemp) -- (newssave.west);
    \draw[arrow] (savetemp) -- (newsupd.west);
    \draw[arrow] (savetemp) -- (tlsave.west);
    \draw[arrow] (savetemp) -- (tlupdate.west);
    \draw[arrow] (savetemp.south east) .. controls +(14,-79) and +(-50,0) .. (soaptemp.west);
    \draw[arrow] (savetemp.south east) .. controls +(21,-118) and +(-60,0) .. (legacymobs.west);
    \draw[arrow] (savetemp.south east) .. controls +(21,-118) and +(-60,0) .. (cloze.west);
    \draw[arrow] (savetemp.south east) .. controls +(21,-118) and +(-60,0) .. (errortext.west);
    \draw[arrow] (savetemp.south east) .. controls +(21,-118) and +(-60,0) .. (fileupload.west);
    \draw[arrow] (savetemp.south east) .. controls +(21,-118) and +(-60,0) .. (formula.west);
    \draw[arrow] (savetemp.south east) .. controls +(21,-118) and +(-60,0) .. (imagemap.west);
    \draw[arrow] (srtupdir.south east) .. controls +(26,-97) and +(-60,0) .. (multisrt.west);
    \draw[arrow] (srtupdir.south east) .. controls +(26,-97) and +(-60,0) .. (uploadsub.west);
    \draw[arrow] (srtupdir.south east) .. controls +(26,-97) and +(-60,0) .. (clearsrt.west);
    \draw[arrow] (forumend) -- (sethandlers.west);
    \draw[arrow] (tlsave) -- (tlupdnews.west);
    \draw[arrow] (tlupdate) -- (tlupdnews.west);
    \draw[arrow] (legacymobs) -- (addintro.west);
    \draw[arrow] (legacymobs) -- (addremarks.west);
    \draw[arrow] (addintro) -- (testfromxml.west);
    \draw[arrow] (addremarks) -- (testfromxml.west);
    \draw[arrow] (videopic) -- (uploadvideo.west);
    \draw[arrow] (videopic) -- (getxml);
    \draw[arrow] (datadir) -- (getxml.west);
    \draw[arrow] (getxml) -- (exportxml.west);
    \draw[arrow] (getxml) -- (rendermob.west);
    \draw[arrow] (rendermob) -- (exporthtmlmob.west);
    \draw[arrow] (exportqfiles) -- (exportpageel.west);
    \draw[arrow] (exporthtmlmob) -- (exportpageel.west);
    \draw[arrow] (sahsdisk) -- (sahsdiskusage.west);

    % xapi, scorm, page objects
    \draw[arrow] (buildlink) -- (launchcmd.west);
    \draw[arrow] (launchcmd) -- (xapiexec.west);
    \draw[arrow] (copypics) -- (xmlrecord.west);
    \draw[arrow] (sahsdatadir) -- (createdatadir.west);
    \draw[arrow] (sahsdatadir) -- (convert12.west);
    \draw[arrow] (sahsdatadir) -- (sahsdel.west);
    \draw[arrow] (sahsdatadir.south east) .. controls +(40,-69) and +(-60,0) .. (populate.west);
    \draw[arrow] (sahsdatadir.south east) .. controls +(40,-69) and +(-60,0) .. (scormread.west);
    \draw[arrow] (sahsdatadir.south east) .. controls +(40,-69) and +(-60,0) .. (scormvars.west);
    \draw[arrow] (sahsdatadir.north east) .. controls +(110,110) and +(-155,-14) .. (scorm2004read.west);
    \draw[arrow] ([xshift=-55pt]populate.north) .. controls +(0,30) and +(0,30) .. ([xshift=55pt]populate.north);
    \draw[arrow] (createdatadir) -- (sahscreate.west);
    \draw[arrow] (convert12) -- (scorm2004read.west);
    \draw[arrow] (scormvars) -- (apiinit.west);
    \draw[arrow] (dispmedia.south east) .. controls +(40,-40) and +(-56,0) .. (dispmediafs.west);
    \draw[arrow] (ltiabspath) -- (lticonvert.west);
    \draw[arrow] (lticonvert) -- (ltisave.west);
    \draw[arrow] (ltisave) -- (uploadsubmit.west);

    % interactive images, badges, tiles
    \draw[arrow] (stdresponse) -- (delpopup.west);
    \draw[arrow] (stdresponse) -- (deltrigger.west);
    \draw[arrow] (stdresponse) -- (insertcmd.west);
    \draw[arrow] (stdresponse) -- (deloverlay.west);
    \draw[arrow] (stdresponse) -- (savepopup.west);
    \draw[arrow] ([xshift=-15pt]delpopup.south east) -- (iihandle.west);
    \draw[arrow] ([xshift=-15pt]deltrigger.south east) -- (iihandle.west);
    \draw[arrow] (insertcmd) -- (iihandle.west);
    \draw[arrow] ([xshift=-15pt]deloverlay.north east) -- (iihandle.west);
    \draw[arrow] (savepopup.north east) .. controls +(36,30) and +(-46,-8) .. (iihandle.south west);
    \draw[arrow] (bgimage) -- (stdresponse);
    \draw[arrow] (badgebase) -- (countbadges.west);
    \draw[arrow] (badgebase) -- (badgepath.west);
    \draw[arrow] (badgebase) -- (instpath.west);
    \draw[arrow] (tilepath.north east) .. controls +(100,100) and +(-141,0) .. (dellegacy.west);
    \draw[arrow] (tilepath) -- (tileexists.west);
    \draw[arrow] (tilepath) -- (tileimage.west);
    \draw[arrow] (tilepath) -- (tilesrcurl.west);
    \draw[arrow] (tileexists) -- (dellegacy.west);
    \draw[arrow] (tileexists) -- (tileimage.west);
    \draw[arrow] (tileexists) -- (tilesrcurl.west);
    \draw[arrow] (iconpath) -- (savetempicon.west);

    % image maps
    \draw[arrow] (mapoutput) -- (editmapareas.west);
    \draw[arrow] (mapoutput) -- (editmaparea.west);
    \draw[arrow] (editmaparea) -- (addarea.west);
    \draw[arrow] (editmaparea) -- (setlink.west);
    \draw[arrow] (editmaparea) -- (setshape.west);
    \draw[arrow] (editmaparea.north east) .. controls +(74,62) and +(-96,0) .. (920,-4228) .. controls +(91,0) and +(0,-91) .. (1125,-4120) .. controls +(0,42) and +(-42,0) .. (linkwhole.west);
    \draw[arrow] (addarea.north east) .. controls +(52,30) and +(-50,0) .. (addcircle.west);
    \draw[arrow] (addarea.north east) .. controls +(52,30) and +(-50,0) .. (addpolygon.west);
    \draw[arrow] (addarea) -- (addrect.west);
    \draw[arrow] (addarea) -- (setintlink.west);
    \draw[arrow] (setlink) -- (setintlink.west);
    \draw[arrow] (setlink) -- (editlink.west);
    \draw[arrow] (setshape) -- (shaperect.west);
    \draw[arrow] (setshape) -- (shapecircle.west);
    \draw[arrow] (setshape) -- (shapepoly.west);
    \draw[arrow] (setshape) -- (shapewhole.west);
    \draw[arrow] (linkwhole) -- (addnewarea.west);
    \draw[arrow] (addcircle) -- (addnewarea.west);
    \draw[arrow] (addpolygon) -- (addnewarea.west);
    \draw[arrow] (addrect) -- (addnewarea.west);

    % presentation and pages
    \draw[arrow] (lmilmedia) -- (lmmedia.west);
    \draw[arrow] (lmmedia.south east) -- (lmlayout.west);
    \draw[arrow] (lmmedia.south east) -- (lmfs.west);
    \draw[arrow] (lmlayout) -- (lmexec.west);
    \draw[arrow] (lmlayout) -- (lmresume.west);
    \draw[arrow] (certlist) -- (certsort.west);
    \draw[arrow] (certlist) -- (certdownload.west);
    \draw[arrow] (glomedia) -- (glofs.west);
    \draw[arrow] (xapiprep) -- (xapiimport.west);
    \draw[arrow] (rendercell) -- (cellcontent.west);
    \draw[arrow] (cellcontent) -- (editdata.west);
    \draw[arrow] (editdata) -- (dtupdate.west);
    \draw[arrow] (editdata) -- (dtupdatejs.west);
    \draw[arrow] (dtupdate) -- (tableaction.west);
    \draw[arrow] (sanitize) -- (formupload.west);
    \draw[arrow] (sanitize) -- (serverfile.west);
    \draw[arrow] (poolmedia) -- (poolpreview.west);
    \draw[arrow] (poolmedia) -- (poolfs.west);
    \draw[arrow] (showmediafs) -- (testfs.west);
    \draw[arrow] (showmediafs) -- (qplfs.west);
    \draw[arrow] (showpage) -- (pgpreview.west);
    \draw[arrow] (showpage) -- (pgedit.west);
    \draw[arrow] (showpage) -- (pgpresent.west);
    \draw[arrow] (showpage) -- (pghtml.west);
    \draw[arrow] (showpage.south east) .. controls +(21,-56) and +(-60,0) .. (pgcompare.west);
    \draw[arrow] (showpage.south east) .. controls +(21,-56) and +(-60,0) .. (sendpage.west);
    \draw[arrow] (showpage.south east) .. controls +(21,-56) and +(-60,0) .. (imprintfs.west);
    \draw[arrow] (showpage.south east) .. controls +(21,-56) and +(-60,0) .. (imprintprev.west);
    \draw[arrow] (showpage.south east) .. controls +(21,-56) and +(-60,0) .. (rawcontent.west);
    \draw[arrow] (pgpreview) -- (blogprevfs.west);
    \draw[arrow] (pgpreview) -- (prevhistory.west);
    \draw[arrow] (pgedit) -- (pgexec.west);
    \draw[arrow] (pgedit) -- (insertjs.west);
    \draw[arrow] (blogprevfs) -- (blogexec.west);
    \draw[arrow] (imprintfs) -- (imprintexec.west);
  \end{tikzpicture}
\end{document}
